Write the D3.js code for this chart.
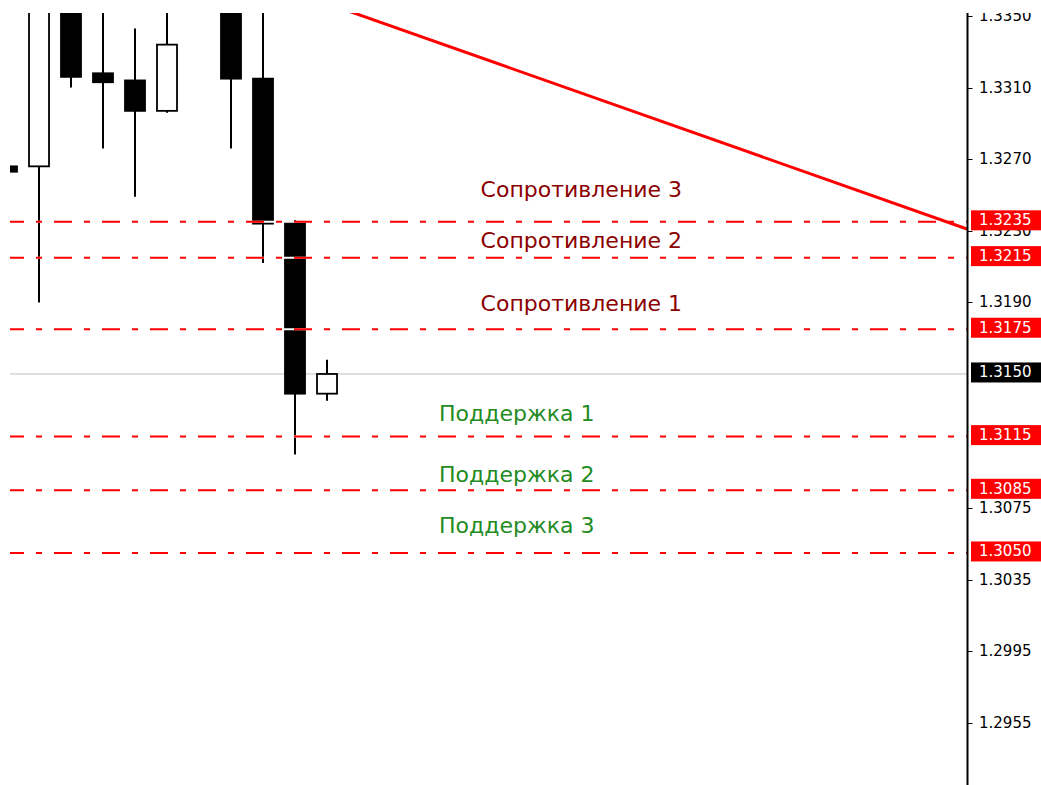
<!DOCTYPE html>
<html>
<head>
<meta charset="utf-8">
<script src="https://d3js.org/d3.v7.min.js"></script>
<style>
  body { margin: 0; background: #fff; }
  svg { display: block; }
</style>
</head>
<body>
<svg id="chart" width="1041" height="785"></svg>
<script>
// bar index (position on time axis) and OHLC prices
const bars   = [-1, 0, 1, 2, 3, 4, 5, 6, 7, 8, 9];
const opens  = [1.3266, 1.3266, 1.3365, 1.3318, 1.3314, 1.3297, 1.3392, 1.3380, 1.3315, 1.3235, 1.3139];
const highs  = [1.3275, 1.3375, 1.3372, 1.3362, 1.3343, 1.3368, 1.3405, 1.3392, 1.3368, 1.3236, 1.3158];
const lows   = [1.3255, 1.3190, 1.3310, 1.3276, 1.3249, 1.3296, 1.3362, 1.3276, 1.3212, 1.3105, 1.3135];
const closes = [1.3263, 1.3362, 1.3316, 1.3313, 1.3297, 1.3334, 1.3372, 1.3315, 1.3234, 1.3139, 1.3150];

// support / resistance levels
const levels      = [1.3235, 1.3215, 1.3175, 1.3115, 1.3085, 1.3050];
const levelNames  = ["Сопротивление 3", "Сопротивление 2", "Сопротивление 1", "Поддержка 1", "Поддержка 2", "Поддержка 3"];
const levelKind   = ["res", "res", "res", "sup", "sup", "sup"];
const namePrice   = [1.32528, 1.32243, 1.31891, 1.31277, 1.30941, 1.30651];
const nameBar     = [13.8, 13.8, 13.8, 12.5, 12.5, 12.5];

const currentPrice = 1.3150;

// trend line anchor points (bar, price)
const trendBars   = [9, 29];
const trendPrices = [1.3357, 1.3231];

// price axis tick labels
const tickValues = [1.3350, 1.3310, 1.3270, 1.3230, 1.3190, 1.3075, 1.3035, 1.2995, 1.2955];

const svg = d3.select("#chart");
const W = 1041, H = 785;
const plotLeft = 10, plotTop = 13, axisX = 967.5;

const x = d3.scaleLinear().domain([0, 29]).range([39, 967]);
const y = d3.scaleLinear().domain([1.2955, 1.3350]).range([723, 16]);

const defs = svg.append("defs");
defs.append("clipPath").attr("id", "plotClip")
  .append("rect").attr("x", plotLeft).attr("y", plotTop)
  .attr("width", axisX - plotLeft).attr("height", H - plotTop);
defs.append("clipPath").attr("id", "allClip")
  .append("rect").attr("x", 0).attr("y", plotTop)
  .attr("width", W).attr("height", H - plotTop);

svg.append("rect").attr("width", W).attr("height", H).attr("fill", "#fff");

const root = svg.append("g").attr("clip-path", "url(#allClip)");
const plot = root.append("g").attr("clip-path", "url(#plotClip)");

// current price line (behind candles)
plot.append("line")
  .attr("x1", plotLeft).attr("x2", axisX)
  .attr("y1", y(currentPrice)).attr("y2", y(currentPrice))
  .attr("stroke", "#c0c0c0").attr("stroke-width", 1);

// candles
const candles = bars.map((b, i) => ({ b, o: opens[i], h: highs[i], l: lows[i], c: closes[i] }));
const bodyW = 20;

const cg = plot.append("g").selectAll("g").data(candles).join("g");
cg.append("line")
  .attr("x1", d => x(d.b)).attr("x2", d => x(d.b))
  .attr("y1", d => y(d.h)).attr("y2", d => y(d.l))
  .attr("stroke", "#000").attr("stroke-width", 2);
cg.append("rect")
  .attr("x", d => x(d.b) - bodyW / 2)
  .attr("width", bodyW)
  .attr("y", d => y(Math.max(d.o, d.c)))
  .attr("height", d => Math.max(1, y(Math.min(d.o, d.c)) - y(Math.max(d.o, d.c))))
  .attr("fill", d => d.c >= d.o ? "#fff" : "#000")
  .attr("stroke", "#000").attr("stroke-width", 1.8);

// level lines: opaque gaps (white) under red dash-dot
const lv = plot.append("g");
lv.selectAll("line.bg").data(levels).join("line")
  .attr("class", "bg")
  .attr("x1", plotLeft).attr("x2", axisX)
  .attr("y1", d => y(d)).attr("y2", d => y(d))
  .attr("stroke", "#fff").attr("stroke-width", 2);
lv.selectAll("line.fg").data(levels).join("line")
  .attr("class", "fg")
  .attr("x1", plotLeft).attr("x2", axisX)
  .attr("y1", d => y(d)).attr("y2", d => y(d))
  .attr("stroke", "#ff0000").attr("stroke-width", 2)
  .attr("stroke-dasharray", "18,12,6,12")
  .attr("stroke-dashoffset", 4);

// trend line
plot.append("line")
  .attr("x1", x(trendBars[0])).attr("y1", y(trendPrices[0]))
  .attr("x2", x(trendBars[1])).attr("y2", y(trendPrices[1]))
  .attr("stroke", "#ff0000").attr("stroke-width", 3);

// level captions
plot.append("g").selectAll("text").data(levelNames).join("text")
  .attr("x", (d, i) => x(nameBar[i]))
  .attr("y", (d, i) => y(namePrice[i]))
  .attr("dominant-baseline", "central")
  .attr("font-family", "DejaVu Sans, sans-serif")
  .attr("font-size", 22)
  .attr("fill", (d, i) => levelKind[i] === "res" ? "#8b0000" : "#228b22")
  .text(d => d);

// price axis
const axisG = root.append("g");
axisG.append("line")
  .attr("x1", axisX).attr("x2", axisX).attr("y1", plotTop).attr("y2", H)
  .attr("stroke", "#000").attr("stroke-width", 2);
axisG.selectAll("line.tick").data(tickValues).join("line")
  .attr("class", "tick")
  .attr("x1", axisX).attr("x2", axisX + 5)
  .attr("y1", d => Math.round(y(d)) + 0.5).attr("y2", d => Math.round(y(d)) + 0.5)
  .attr("stroke", "#000").attr("stroke-width", 1);
axisG.selectAll("text.tick").data(tickValues).join("text")
  .attr("class", "tick")
  .attr("x", 979).attr("y", d => y(d))
  .attr("dominant-baseline", "central")
  .attr("font-family", "DejaVu Sans, sans-serif")
  .attr("font-size", 15).attr("fill", "#000")
  .text(d => d.toFixed(4));

// price tags
const tags = levels.map(v => ({ v, bg: "#ff0000" })).concat([{ v: currentPrice, bg: "#000" }]);
const tg = axisG.selectAll("g.tag").data(tags).join("g").attr("class", "tag");
tg.append("rect")
  .attr("x", 971).attr("width", W - 971)
  .attr("y", d => y(d.v) - 1.5 - 10).attr("height", 20)
  .attr("fill", d => d.bg);
tg.append("text")
  .attr("x", 979).attr("y", d => y(d.v) - 1.5)
  .attr("dominant-baseline", "central")
  .attr("font-family", "DejaVu Sans, sans-serif")
  .attr("font-size", 15).attr("fill", "#fff")
  .text(d => d.v.toFixed(4));
</script>
</body>
</html>
